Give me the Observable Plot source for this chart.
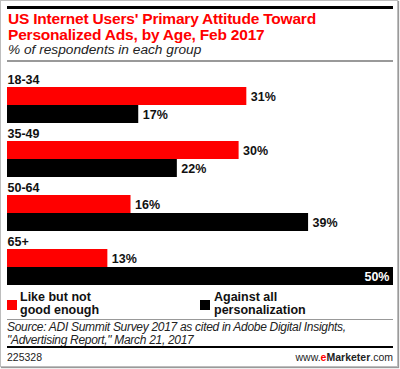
<!DOCTYPE html>
<html>
<head>
<meta charset="utf-8">
<script src="https://cdn.jsdelivr.net/npm/d3@7"></script>
<script src="https://cdn.jsdelivr.net/npm/@observablehq/plot@0.6"></script>
<style>
  html, body { margin: 0; padding: 0; background: #fff; }
  #page { position: relative; width: 400px; height: 369px; overflow: hidden; font-family: "Liberation Sans", Arial, sans-serif; }
  #frame { position: absolute; left: 0; top: 0; width: 396px; height: 365px; border: 1px solid #bdbdbd; box-shadow: 1px 1px 1px #9a9a9a; }
  .rule { position: absolute; left: 7px; width: 386px; }
  #title { position: absolute; left: 8px; top: 11px; color: #ff0000; font-weight: bold; font-size: 15.5px; line-height: 15.5px; letter-spacing: -0.2px; }
  #subtitle { position: absolute; left: 8px; top: 42px; font-style: italic; font-size: 13.7px; color: #222; }
  #chart { position: absolute; left: 0; top: 65.5px; }
  .leg { position: absolute; top: 291px; font-weight: bold; font-size: 12.5px; line-height: 13px; color: #111; }
  .sw { position: absolute; width: 10px; height: 10px; }
  #source { position: absolute; left: 7px; top: 321px; font-style: italic; font-size: 12px; line-height: 12.5px; letter-spacing: -0.3px; color: #222; }
  #id { position: absolute; left: 7px; top: 351px; font-size: 10.5px; color: #222; }
  #brand { position: absolute; right: 7px; top: 351px; font-size: 10.5px; color: #222; }
</style>
</head>
<body>
<div id="page">
  <div id="frame"></div>
  <div class="rule" style="top:6px;height:3px;background:#000"></div>
  <div id="title">US Internet Users' Primary Attitude Toward<br>Personalized Ads, by Age, Feb 2017</div>
  <div id="subtitle">% of respondents in each group</div>
  <div class="rule" style="top:60px;height:2px;background:#999"></div>
  <div id="chart"></div>
  <div class="sw" style="left:7px;top:300px;background:#ff0000"></div>
  <div class="leg" style="left:20px">Like but not<br>good enough</div>
  <div class="sw" style="left:200px;top:300px;background:#000"></div>
  <div class="leg" style="left:214px">Against all<br>personalization</div>
  <div class="rule" style="top:319px;height:1px;background:#999"></div>
  <div id="source">Source: ADI Summit Survey 2017 as cited in Adobe Digital Insights,<br>"Advertising Report," March 21, 2017</div>
  <div class="rule" style="top:346px;height:2px;background:#000"></div>
  <div id="id">225328</div>
  <div id="brand">www.<span style="color:#ff0000;font-weight:bold">e</span><b>Marketer</b>.com</div>
</div>
<script>
const ages = ["18-34", "35-49", "50-64", "65+"];
const likeValues = [31, 30, 16, 13];
const againstValues = [17, 22, 39, 50];
const seriesKeys = ["like", "against"];
const seriesColors = ["#ff0000", "#000000"];

const bars = ages.flatMap((a, i) => [
  {age: a, series: "like", key: a + "|like", value: likeValues[i]},
  {age: a, series: "against", key: a + "|against", value: againstValues[i]}
]);
const rowDomain = ages.flatMap(a => [a + "|label", a + "|like", a + "|against"]);
const outside = bars.filter(d => d.value < 45);
const inside = bars.filter(d => d.value >= 45);

const chart = Plot.plot({
  width: 400,
  height: 222,
  marginLeft: 7,
  marginRight: 7,
  marginTop: 0,
  marginBottom: 0,
  style: {fontFamily: "'Liberation Sans', Arial, sans-serif", background: "transparent"},
  x: {domain: [0, 50], axis: null},
  y: {domain: rowDomain, axis: null, padding: 0},
  color: {domain: seriesKeys, range: seriesColors},
  marks: [
    Plot.barX(bars, {x: "value", y: "key", fill: "series"}),
    Plot.text(outside, {x: "value", y: "key", text: d => d.value + "%", dx: 4, textAnchor: "start", fontWeight: "bold", fontSize: 12.5, fill: "#111"}),
    Plot.text(inside, {x: "value", y: "key", text: d => d.value + "%", dx: -4, textAnchor: "end", fontWeight: "bold", fontSize: 12.5, fill: "#fff"}),
    Plot.text(ages, {x: 0, y: a => a + "|label", text: d => d, textAnchor: "start", dy: 1, fontWeight: "bold", fontSize: 12.5, fill: "#111"})
  ]
});
document.getElementById("chart").appendChild(chart);
</script>
</body>
</html>
